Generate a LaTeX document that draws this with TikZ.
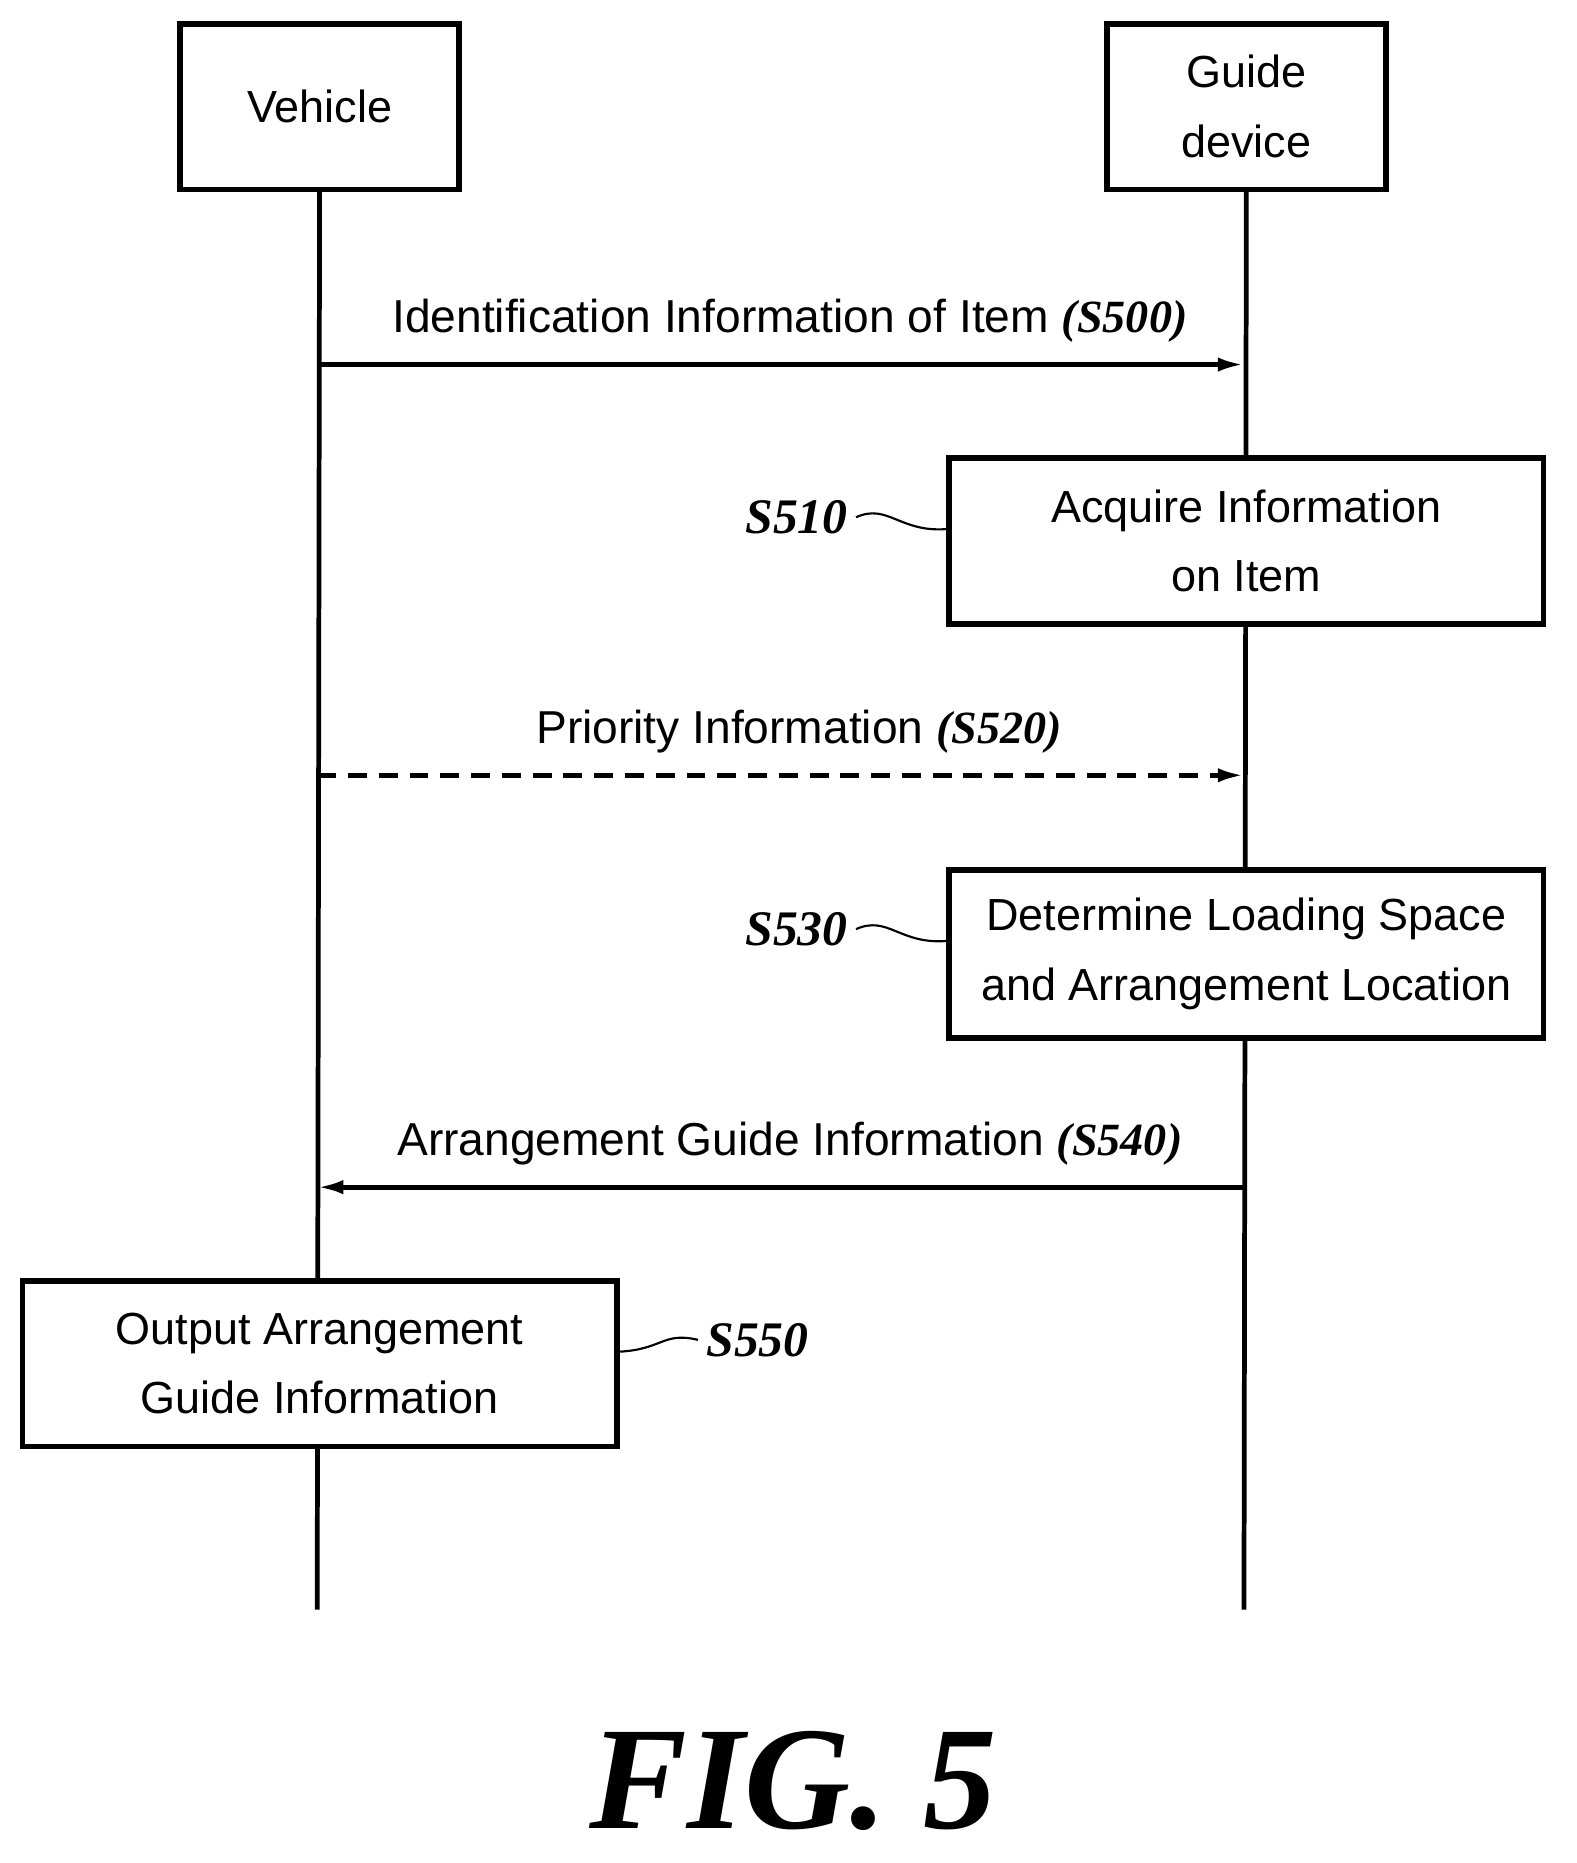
\documentclass[tikz,border=0pt]{standalone}
\usepackage{fontspec}
\setmainfont{Liberation Sans}
\newfontfamily\lab{Liberation Serif}
\usetikzlibrary{arrows.meta}
\begin{document}
\begin{tikzpicture}[x=0.5pt,y=-0.5pt,
 box/.style={draw,line width=2.4pt,align=center,font=\fontsize{19}{29.5}\selectfont,inner sep=0pt},
 msg/.style={font=\fontsize{19.5}{22}\selectfont},
 sl/.style={font=\lab\bfseries\itshape\fontsize{21}{24}\selectfont},
 life/.style={line width=2pt},
 arr/.style={line width=2pt,-{Latex[length=11pt,width=6pt]}},
 tl/.style={line width=0.9pt}]
\useasboundingbox (0,0) rectangle (1332,1574);
\node[box,minimum width=118pt,minimum height=70pt] (veh) at (270,90) {Vehicle};
\node[box,minimum width=118pt,minimum height=70pt] (gd) at (1053,90) {Guide\\device};
\coordinate (vend) at (268,1360);
\coordinate (gend) at (1051,1360);
\draw[life] (veh.south) -- (vend);
\draw[life] (gd.south) -- (gend);
\node[box,fill=white,minimum width=251pt,minimum height=70pt] (b510) at (1053,457) {Acquire Information\\on Item};
\node[box,fill=white,minimum width=251pt,minimum height=71pt] (b530) at (1053,806) {Determine Loading Space\\and Arrangement Location};
\node[box,fill=white,minimum width=251pt,minimum height=70pt] (b550) at (270,1152) {Output Arrangement\\Guide Information};
\coordinate (v1) at (268,308); \coordinate (g1) at (1051,308);
\coordinate (v2) at (268,655); \coordinate (g2) at (1051,655);
\coordinate (v3) at (268,1003); \coordinate (g3) at (1051,1003);
\draw[arr] (v1) -- (g1) node[msg,pos=0.51,above=5pt] (m1) {Identification Information of Item {\lab\bfseries\itshape(S500)}};
\draw[arr,dashed,dash pattern=on 8pt off 5pt] (v2) -- (g2) node[msg,pos=0.52,above=5pt] (m2) {Priority Information {\lab\bfseries\itshape(S520)}};
\draw[arr] (g3) -- (v3) node[msg,pos=0.49,above=5pt] (m3) {Arrangement Guide Information {\lab\bfseries\itshape(S540)}};
\node[sl] (s510) at (673,437) {S510};
\node[sl] (s530) at (673,785) {S530};
\node[sl] (s550) at (640,1132) {S550};
\draw[tl] (s510.east) .. controls (750,425) and (760,450) .. (b510.west|-0,447);
\draw[tl] (s530.east) .. controls (750,773) and (760,798) .. (b530.west|-0,795);
\draw[tl] (b550.east|-0,1142) .. controls (560,1140) and (560,1125) .. (s550.west);
\node[font=\lab\bfseries\itshape\fontsize{62}{66}\selectfont] (fig) at (670,1505) {FIG. 5};
\end{tikzpicture}
\end{document}
